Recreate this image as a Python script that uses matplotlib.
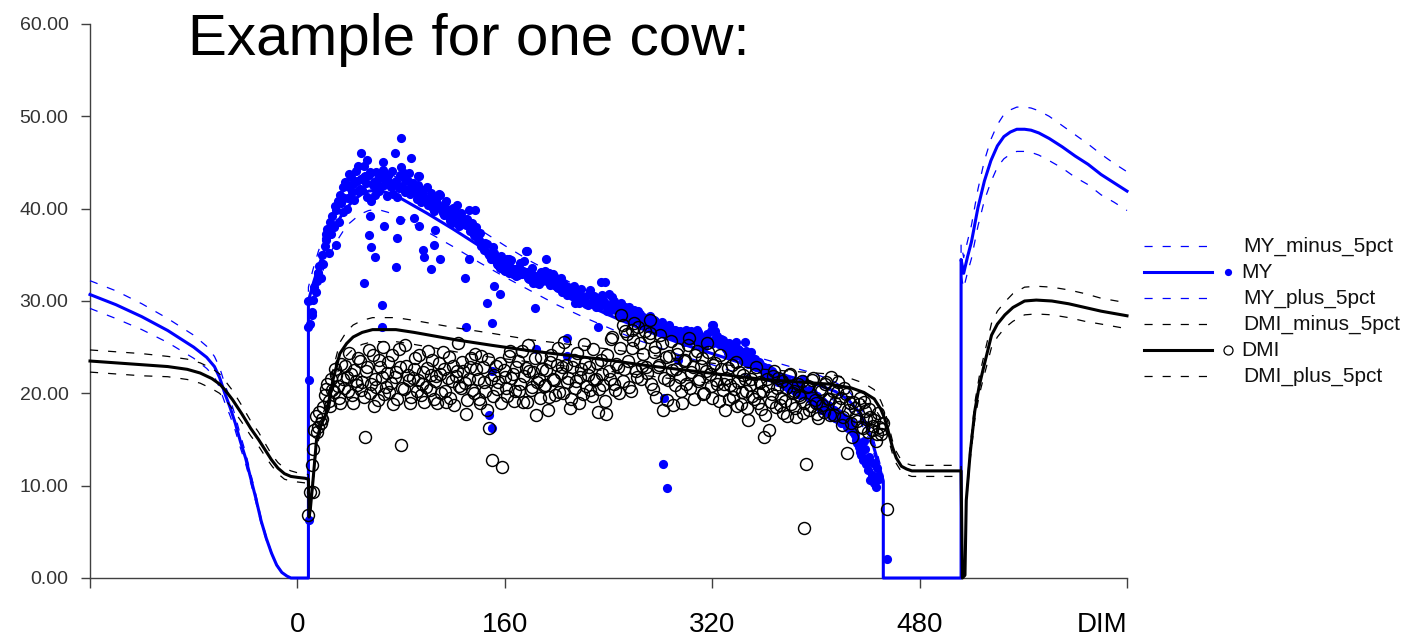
import numpy as np
import matplotlib
matplotlib.use('Agg')
import matplotlib.pyplot as plt
from matplotlib.lines import Line2D

# ---------------- data ----------------
x_ticks = [-160, 0, 160, 320, 480, 640]
x_tick_labels = ['', '0', '160', '320', '480', 'DIM']
y_ticks = [0, 10, 20, 30, 40, 50, 60]

# model curve knots for milk yield (MY)
my_line_x = [-160, -140, -120, -100, -80, -70, -64, -60, -56, -52, -48, -44, -40, -36, -32, -28,
             -24, -20, -16, -12, -8, -5, 8.5, 8.5, 12, 16, 20, 25, 30, 35, 40, 45, 50, 55, 60, 65,
             70, 80, 90, 100, 120, 140, 160, 180, 200, 220, 240, 260, 280, 300, 320, 340, 360, 380,
             400, 415, 425, 432, 438, 443, 447, 450, 452, 452, 512, 512, 514, 517, 520, 525, 530,
             535, 540, 545, 550, 555, 561, 566, 572, 580, 590, 600, 610, 620, 630, 640]
my_line = [30.7, 29.6, 28.3, 26.8, 25.0, 23.9, 22.9, 21.7, 20.0, 18.5, 16.8, 14.8, 13.0, 10.8, 8.6, 6.2,
           4.3, 2.7, 1.4, 0.6, 0.2, 0.0, 0.0, 30.0, 31.8, 33.6, 35.2, 36.9, 38.3, 39.5, 40.4, 41.1, 41.6, 41.9, 42.0, 41.9,
           41.7, 41.1, 40.3, 39.5, 37.8, 36.0, 34.3, 32.7, 31.2, 29.8, 28.5, 27.3, 26.2, 25.2, 24.3, 23.4, 22.6, 21.8,
           21.0, 20.2, 19.3, 18.2, 16.8, 15.0, 13.0, 11.5, 10.5, 0.0, 0.0, 34.5, 33.0, 34.8, 36.4, 40.1, 43.0,
           45.2, 46.8, 47.8, 48.3, 48.6, 48.6, 48.5, 48.2, 47.6, 46.7, 45.7, 44.8, 43.7, 42.8, 41.9]
my_plus_5pct = [32.2, 31.1, 29.7, 28.1, 26.3, 25.1, 24.0, 22.8, 21.0, 19.4, 17.6, 15.5, 13.6, 11.3, 9.0, 6.5,
                4.5, 2.8, 1.5, 0.6, 0.2, 0.0, 0.0, 31.5, 33.4, 35.3, 37.0, 38.7, 40.2, 41.5, 42.4, 43.2, 43.7, 44.0, 44.1, 44.0,
                43.8, 43.2, 42.3, 41.5, 39.7, 37.8, 36.0, 34.3, 32.8, 31.3, 29.9, 28.7, 27.5, 26.5, 25.5, 24.6, 23.7, 22.9,
                22.1, 21.2, 20.3, 19.1, 17.6, 15.8, 13.7, 12.1, 11.0, 0.0, 0.0, 36.2, 34.7, 36.5, 38.2, 42.1, 45.2,
                47.5, 49.1, 50.2, 50.7, 51.0, 51.0, 50.9, 50.6, 50.0, 49.0, 48.0, 47.0, 45.9, 44.9, 44.0]
my_minus_5pct = [29.2, 28.1, 26.9, 25.5, 23.8, 22.7, 21.8, 20.6, 19.0, 17.6, 16.0, 14.1, 12.4, 10.3, 8.2, 5.9,
                 4.1, 2.6, 1.3, 0.6, 0.2, 0.0, 0.0, 28.5, 30.2, 31.9, 33.4, 35.1, 36.4, 37.5, 38.4, 39.0, 39.5, 39.8, 39.9, 39.8,
                 39.6, 39.0, 38.3, 37.5, 35.9, 34.2, 32.6, 31.1, 29.6, 28.3, 27.1, 25.9, 24.9, 23.9, 23.1, 22.2, 21.5, 20.7,
                 20.0, 19.2, 18.3, 17.3, 16.0, 14.3, 12.4, 10.9, 10.0, 0.0, 0.0, 32.8, 31.4, 33.1, 34.6, 38.1, 40.9,
                 42.9, 44.5, 45.4, 45.9, 46.2, 46.2, 46.1, 45.8, 45.2, 44.4, 43.4, 42.6, 41.5, 40.7, 39.8]

# model curve knots for dry matter intake (DMI)
dmi_line_x = [-160, -140, -120, -100, -85, -75, -66, -60, -56, -50, -43, -36, -30, -25, -20, -15, -10, -5,
              0, 6, 8.5, 9, 10, 12, 14.7, 18, 22.4, 27.5, 32.7, 38, 43, 50, 58, 76, 90, 102, 122, 150,
              180, 210, 240, 270, 300, 330, 360, 390, 410, 427, 437, 445, 450, 453, 456, 459, 462, 466,
              470, 474, 512, 513, 515, 516, 519, 522.6, 526, 529, 535.5, 540, 545.8, 552, 561, 570,
              582, 595, 607.5, 620, 640]
dmi_line = [23.5, 23.3, 23.1, 22.9, 22.6, 22.2, 21.6, 21.0, 20.4, 19.3, 17.8, 16.2, 15.0, 13.9, 12.8, 11.9, 11.3, 11.0,
            10.9, 10.8, 10.7, 6.6, 7.5, 10.5, 14.9, 16.5, 17.8, 21.5, 24.3, 25.4, 26.1, 26.6, 26.9, 26.9, 26.6, 26.3, 25.8, 25.2,
            24.6, 24.1, 23.6, 23.0, 22.5, 22.0, 21.5, 21.2, 21.0, 20.6, 20.1, 19.4, 18.3, 17.3, 15.8, 14.2, 13.0, 12.1,
            11.8, 11.6, 11.6, 0.0, 0.3, 8.4, 13.5, 18.1, 20.8, 22.6, 26.3, 27.5, 28.5, 29.3, 30.0, 30.1,
            30.0, 29.7, 29.3, 28.9, 28.4]
dmi_plus_5pct = [24.7, 24.5, 24.3, 24.0, 23.7, 23.3, 22.7, 22.1, 21.4, 20.3, 18.7, 17.0, 15.8, 14.6, 13.4, 12.5, 11.9, 11.6,
                 11.4, 11.3, 11.2, 6.9, 7.9, 11.0, 15.6, 17.3, 18.7, 22.6, 25.5, 26.7, 27.4, 27.9, 28.2, 28.2, 27.9, 27.6, 27.1, 26.5,
                 25.8, 25.3, 24.8, 24.2, 23.6, 23.1, 22.6, 22.3, 22.1, 21.6, 21.1, 20.4, 19.2, 18.2, 16.6, 14.9, 13.7, 12.7,
                 12.4, 12.2, 12.2, 0.0, 0.3, 8.8, 14.2, 19.0, 21.8, 23.7, 27.6, 28.9, 29.9, 30.8, 31.5, 31.6,
                 31.5, 31.2, 30.8, 30.3, 29.8]
dmi_minus_5pct = [22.3, 22.1, 21.9, 21.8, 21.5, 21.1, 20.5, 20.0, 19.4, 18.3, 16.9, 15.4, 14.3, 13.2, 12.2, 11.3, 10.7, 10.5,
                  10.4, 10.3, 10.2, 6.3, 7.1, 10.0, 14.2, 15.7, 16.9, 20.4, 23.1, 24.1, 24.8, 25.3, 25.6, 25.6, 25.3, 25.0, 24.5, 23.9,
                  23.4, 22.9, 22.4, 21.9, 21.4, 20.9, 20.4, 20.1, 20.0, 19.6, 19.1, 18.4, 17.4, 16.4, 15.0, 13.5, 12.4, 11.5,
                  11.2, 11.0, 11.0, 0.0, 0.3, 8.0, 12.8, 17.2, 19.8, 21.5, 25.0, 26.1, 27.1, 27.8, 28.5, 28.6,
                  28.5, 28.2, 27.8, 27.5, 27.0]

# observed milk yield, even days from DIM 10
my_obs_days = np.arange(10, 450, 2)
my_obs = [27.5, 30.1, 31.0, 33.0, 32.5, 34.0, 36.6, 35.2, 37.3, 38.0,
          39.9, 38.6, 40.6, 41.2, 40.0, 42.4, 41.8, 40.9, 43.0, 42.1,
          42.0, 43.5, 41.3, 44.0, 42.6, 41.5, 43.2, 42.4, 44.2, 43.0,
          43.7, 42.4, 41.6, 43.0, 42.2, 44.5, 43.3, 42.0, 43.9, 42.4,
          42.1, 41.0, 43.5, 41.7, 40.9, 42.4, 41.0, 40.2, 41.3, 40.5,
          41.5, 39.8, 40.6, 39.5, 38.8, 40.1, 39.6, 38.5, 39.5, 38.8,
          38.2, 39.9, 37.8, 37.2, 38.0, 36.6, 36.0, 35.5, 36.2, 35.0,
          34.6, 35.2, 34.0, 33.6, 34.5, 33.2, 34.5, 33.7, 32.9, 33.5,
          32.8, 34.1, 33.3, 35.4, 32.5, 33.0, 32.0, 32.6, 31.8, 33.1,
          32.4, 34.5, 33.0, 31.9, 32.7, 31.5, 32.3, 31.0, 31.8, 30.6,
          31.3, 30.5, 29.8, 31.0, 30.7, 29.9, 30.4, 29.6, 31.2, 30.0,
          29.4, 30.3, 32.1, 30.1, 29.5, 30.8, 29.0, 30.0, 29.3, 28.6,
          29.8, 28.9, 28.3, 29.4, 28.0, 29.0, 27.9, 28.6, 27.4, 28.2,
          27.6, 28.4, 27.1, 27.8, 27.0, 27.5, 26.6, 27.3, 26.4, 27.0,
          26.2, 26.8, 25.9, 26.5, 25.6, 26.9, 26.2, 26.7, 25.8, 26.9,
          25.5, 26.1, 25.0, 26.4, 25.6, 27.4, 26.8, 26.2, 25.3, 25.8,
          25.0, 24.4, 25.2, 24.0, 25.6, 24.8, 24.3, 23.5, 24.6, 23.2,
          24.5, 23.0, 22.9, 23.4, 22.6, 22.9, 22.2, 21.8, 22.4, 21.5,
          21.9, 21.2, 21.5, 20.8, 21.3, 20.6, 21.0, 20.2, 20.8, 19.8,
          21.5, 20.2, 19.6, 19.3, 20.0, 18.8, 19.4, 18.2, 18.9, 18.0,
          18.6, 17.5, 18.2, 17.2, 17.8, 16.9, 17.3, 16.4, 16.8, 16.0,
          15.5, 14.6, 13.7, 12.8, 14.0, 11.7, 10.6, 12.5, 9.9, 11.0]
# observed milk yield, odd days from DIM 11
my_obs_days_b = np.arange(11, 450, 2)
my_obs_b = [28.8, 31.5, 32.2, 33.8, 35.0, 36.0, 37.8, 38.6, 39.2, 40.3,
            40.8, 41.5, 39.6, 42.9, 41.2, 43.4, 42.7, 44.1, 41.9, 43.2,
            44.6, 42.8, 43.7, 40.8, 42.9, 44.0, 41.9, 43.4, 42.6, 41.4,
            42.9, 44.1, 42.7, 41.3, 43.6, 42.5, 41.8, 43.0, 41.6, 42.8,
            41.8, 42.6, 40.7, 42.0, 41.1, 40.4, 41.7, 39.8, 40.9, 41.6,
            40.2, 39.3, 40.8, 39.9, 38.4, 39.2, 40.4, 38.1, 39.0, 38.3,
            38.9, 37.6, 38.4, 37.0, 36.8, 37.4, 35.8, 36.3, 35.2, 34.6,
            35.8, 34.4, 33.9, 34.9, 33.4, 34.1, 33.0, 34.4, 33.2, 32.7,
            33.6, 32.9, 34.3, 33.1, 32.4, 33.6, 32.7, 31.9, 32.9, 32.2,
            33.3, 32.6, 31.7, 32.9, 32.1, 31.4, 32.5, 31.6, 30.9, 31.5,
            30.9, 31.6, 30.4, 30.0, 31.3, 30.2, 29.7, 30.8, 29.9, 30.5,
            30.0, 29.3, 30.7, 29.8, 28.9, 29.6, 30.4, 29.1, 28.8, 29.7,
            28.5, 29.3, 28.7, 27.9, 28.8, 28.1, 28.9, 27.7, 28.3, 27.5,
            28.0, 27.2, 27.9, 27.4, 26.9, 27.7, 27.1, 26.7, 27.4, 26.3,
            26.9, 26.2, 26.7, 25.9, 26.5, 26.1, 25.7, 26.4, 25.9, 26.6,
            26.0, 25.4, 26.2, 25.8, 26.7, 25.5, 26.1, 25.3, 25.9, 25.2,
            24.8, 25.4, 24.6, 25.0, 24.2, 24.7, 23.9, 24.5, 23.8, 23.9,
            23.4, 23.7, 22.8, 23.2, 22.5, 22.0, 22.7, 21.9, 22.2, 21.6,
            21.2, 21.8, 21.0, 21.4, 20.5, 21.1, 20.4, 20.9, 20.1, 20.6,
            20.2, 19.8, 20.4, 19.5, 19.1, 19.7, 18.6, 19.2, 18.4, 18.7,
            18.1, 17.8, 17.3, 17.9, 16.8, 17.4, 16.6, 16.2, 16.9, 15.8,
            15.0, 14.2, 13.3, 14.8, 12.4, 13.1, 11.2, 10.3, 11.9, 10.7]
# further observed milk yield (day, kg)
my_extra_days = [8.5, 8.5, 9, 9, 11, 16, 19, 22, 30, 35, 40, 47, 49, 51, 54, 55, 56, 57, 60, 65, 65, 66, 67,
                 70, 75, 76, 77, 79, 80, 82, 88, 90, 93, 94, 97, 98, 103, 105, 106, 110, 112, 118, 129, 130,
                 132, 137, 146, 150, 150, 148, 150, 152, 156, 163, 177, 183, 184, 208, 208, 214, 217, 232,
                 237, 282, 285, 283, 294, 321, 345, 455]
my_extra = [30.0, 27.2, 21.4, 6.3, 28.5, 33.0, 34.0, 37.3, 36.1, 42.4, 43.8, 44.6, 46.0, 31.9, 45.3, 37.2, 39.2, 35.9,
            34.8, 29.6, 27.2, 45.1, 38.1, 43.7, 46.0, 33.7, 36.8, 38.8, 47.6, 43.9, 45.5, 39.0, 43.5, 38.1, 35.5, 34.8,
            33.5, 36.1, 37.7, 34.6, 39.5, 38.8, 32.5, 27.2, 34.5, 39.9, 29.8, 27.6, 22.4, 17.6, 16.2, 31.6, 30.8, 34.5,
            35.4, 29.2, 24.8, 26.0, 24.0, 31.3, 29.8, 27.2, 32.1, 12.4, 9.7, 19.5, 23.6, 27.4, 25.6, 2.1]

# observed dry matter intake, even days from DIM 10
dmi_obs_days = np.arange(10, 454, 2)
dmi_obs = [9.3, 14.0, 17.5, 16.4, 16.8, 18.5, 20.5, 19.2, 21.6, 20.1,
           22.0, 19.5, 23.2, 20.6, 21.8, 24.4, 19.8, 22.5, 20.9, 23.5,
           21.2, 15.3, 22.8, 20.0, 24.1, 21.5, 19.3, 22.9, 25.0, 20.7,
           23.4, 21.1, 18.8, 22.3, 24.8, 14.4, 20.5, 23.0, 21.4, 19.6,
           22.6, 20.2, 24.2, 21.0, 19.1, 22.7, 20.4, 23.6, 21.3, 18.9,
           22.1, 24.5, 20.3, 21.7, 19.5, 23.0, 21.9, 25.5, 20.6, 22.4,
           17.8, 21.5, 23.8, 20.0, 22.6, 19.4, 24.0, 21.2, 18.2, 16.2,
           12.8, 22.0, 20.5, 23.3, 12.0, 21.8, 19.7, 24.6, 22.1, 20.3,
           23.5, 21.0, 19.1, 22.7, 25.2, 20.4, 22.3, 17.6, 21.5, 23.9,
           20.8, 22.5, 19.6, 24.2, 21.4, 23.1, 20.1, 22.8, 25.6, 21.2,
           18.4, 22.9, 20.6, 24.4, 21.8, 19.9, 23.3, 22.0, 20.4, 24.8,
           21.5, 18.0, 23.6, 20.9, 17.8, 22.4, 25.9, 21.0, 23.2, 20.0,
           28.5, 22.6, 26.4, 20.7, 24.9, 27.6, 21.8, 25.4, 23.0, 26.8,
           22.2, 27.9, 20.5, 25.0, 22.8, 26.3, 18.2, 23.9, 21.4, 25.7,
           18.7, 22.6, 24.8, 20.2, 23.5, 21.0, 26.0, 22.3, 19.4, 24.6,
           21.6, 23.8, 20.0, 25.4, 22.1, 19.5, 23.3, 21.0, 24.2, 20.4,
           18.2, 22.7, 20.9, 19.6, 23.4, 21.2, 18.8, 22.0, 20.3, 17.1,
           21.5, 19.4, 22.8, 20.0, 18.3, 15.3, 21.6, 16.0, 19.9, 22.4,
           20.6, 18.7, 21.3, 19.2, 17.5, 22.1, 20.0, 18.4, 21.0, 19.6,
           17.9, 12.4, 20.8, 18.6, 21.7, 19.0, 17.3, 20.3, 18.0, 21.2,
           19.4, 21.8, 17.7, 20.1, 18.5, 16.6, 20.6, 13.5, 19.0, 15.3,
           18.4, 17.0, 19.5, 16.2, 18.1, 15.8, 17.4, 16.5, 14.8, 17.9,
           15.6, 16.8]
# observed dry matter intake, odd days from DIM 11
dmi_obs_days_b = np.arange(11, 452, 2)
dmi_obs_b = [12.2, 16.0, 15.8, 18.0, 17.2, 19.8, 21.0, 18.6, 20.4, 22.6,
             20.8, 18.9, 21.5, 23.0, 20.2, 22.1, 19.0, 21.3, 23.8, 20.4,
             19.6, 22.4, 24.7, 21.0, 18.6, 20.7, 23.6, 21.8, 19.9, 22.2,
             20.1, 24.2, 21.8, 19.4, 22.9, 20.6, 25.2, 22.0, 19.0, 21.7,
             23.8, 21.4, 19.8, 22.3, 20.7, 24.6, 22.0, 19.4, 21.9, 23.3,
             20.0, 22.6, 19.1, 23.9, 21.3, 18.7, 22.4, 20.8, 23.4, 21.1,
             19.3, 22.9, 20.4, 24.3, 21.6, 19.0, 22.8, 20.2, 23.7, 21.5,
             19.7, 23.0, 21.2, 18.9, 22.5, 20.6, 24.0, 21.7, 19.2, 22.9,
             20.3, 24.6, 21.9, 19.1, 22.4, 20.7, 23.8, 21.2, 19.5, 22.6,
             20.9, 18.2, 23.4, 21.5, 19.8, 24.9, 22.2, 20.0, 23.1, 21.7,
             19.4, 23.6, 21.3, 19.0, 22.6, 25.3, 20.8, 22.9, 19.7, 21.4,
             23.3, 20.5, 22.1, 19.2, 24.2, 21.6, 26.1, 20.4, 22.8, 24.9,
             21.3, 26.7, 23.5, 20.3, 25.8, 22.4, 27.2, 21.6, 24.3, 22.9,
             26.1, 21.0, 24.5, 19.6, 23.1, 25.5, 21.7, 19.3, 24.0, 22.5,
             20.9, 24.3, 21.8, 19.0, 23.6, 25.2, 20.6, 22.9, 24.1, 21.3,
             23.0, 19.9, 22.4, 24.5, 20.8, 23.1, 21.4, 19.2, 22.6, 21.0,
             21.7, 19.4, 23.1, 20.5, 18.6, 22.3, 20.1, 21.5, 18.4, 20.9,
             19.7, 22.1, 18.9, 21.2, 20.3, 17.6, 20.8, 19.1, 21.9, 18.5,
             21.7, 19.5, 17.9, 20.6, 22.0, 18.8, 20.2, 17.4, 19.8, 21.3,
             19.0, 20.7, 18.2, 21.4, 19.3, 17.8, 20.5, 18.7, 21.0, 19.4,
             17.6, 20.3, 18.9, 21.2, 19.5, 17.4, 19.9, 18.2, 16.8, 19.1,
             17.5, 18.8, 16.4, 19.1, 17.2, 18.3, 16.0, 17.1, 15.6, 16.4,
             16.1]
dmi_extra_days = [8.5, 12, 391, 455, 251, 258, 272]
dmi_extra = [6.8, 9.35, 5.4, 7.5, 27.4, 26.9, 26.5]

legend_labels = ['MY_minus_5pct', 'MY', 'MY_plus_5pct', 'DMI_minus_5pct', 'DMI', 'DMI_plus_5pct']

# ---------------- figure ----------------
W, H = 1405, 637
fig = plt.figure(figsize=(W / 100, H / 100), dpi=100)
ax = fig.add_axes([90 / W, 1 - 578 / H, (1127 - 90) / W, (578 - 24) / H])

BLUE = '#0000ff'
DASH = (6.5, 8)
MY_MS = 6.6
DMI_MS = 8.6

ax.plot(my_line_x, my_minus_5pct, color=BLUE, lw=0.9, dashes=DASH, zorder=2, clip_on=False)
ax.plot(my_line_x, my_line, color=BLUE, lw=2.2, zorder=3, clip_on=False)
ax.plot(my_line_x, my_plus_5pct, color=BLUE, lw=0.9, dashes=DASH, zorder=2, clip_on=False)
for dd, vv in [(my_obs_days, my_obs), (my_obs_days_b, my_obs_b), (my_extra_days, my_extra)]:
    ax.plot(dd, vv, 'o', color=BLUE, ms=MY_MS, mew=0, zorder=4, clip_on=False)

ax.plot(dmi_line_x, dmi_minus_5pct, color='black', lw=0.9, dashes=DASH, zorder=5, clip_on=False)
ax.plot(dmi_line_x, dmi_line, color='black', lw=2.2, zorder=6, clip_on=False)
ax.plot(dmi_line_x, dmi_plus_5pct, color='black', lw=0.9, dashes=DASH, zorder=5, clip_on=False)
for dd, vv in [(dmi_obs_days, dmi_obs), (dmi_obs_days_b, dmi_obs_b), (dmi_extra_days, dmi_extra)]:
    ax.plot(dd, vv, 'o', mfc='none', mec='black', ms=DMI_MS, mew=1.05, zorder=7, clip_on=False)

ax.set_xlim(-160, 640)
ax.set_ylim(0, 60)
for s in ['top', 'right']:
    ax.spines[s].set_visible(False)
for s in ['left', 'bottom']:
    ax.spines[s].set_color('#404040')
    ax.spines[s].set_linewidth(1.0)
    ax.spines[s].set_zorder(1)

ax.set_yticks(y_ticks)
ax.set_yticklabels([f'{v:.2f}' for v in y_ticks])
ax.set_xticks(x_ticks)
ax.set_xticklabels(x_tick_labels)
ax.tick_params(axis='y', direction='out', length=6.5, width=1.0, color='#404040', pad=9,
               labelsize=14, labelcolor='#333333')
ax.tick_params(axis='x', direction='out', length=7.5, width=1.0, color='#404040', pad=17,
               labelsize=20, labelcolor='black')
for lab in ax.get_yticklabels() + ax.get_xticklabels():
    lab.set_fontfamily('Liberation Sans')
ax.get_xticklabels()[-1].set_ha('right')

fig.text(188 / W, 1 - 55 / H, 'Example for one cow:', fontsize=42, family='Liberation Sans',
         ha='left', va='baseline', color='black')

# legend (drawn by hand to mimic line + marker layout)
rows = [246, 272, 298, 324, 350, 376]
styles = [(BLUE, 'dash', None), (BLUE, 'solid', 'fill'), (BLUE, 'dash', None),
          ('black', 'dash', None), ('black', 'solid', 'open'), ('black', 'dash', None)]
x0, x1, xm, xt = 1144 / W, 1212 / W, 1228 / W, 1243 / W
for r, (c, ls, mk), lab in zip(rows, styles, legend_labels):
    yf = 1 - r / H
    if ls == 'dash':
        fig.add_artist(Line2D([x0, x1], [yf, yf], transform=fig.transFigure, color=c, lw=0.9, dashes=DASH))
    else:
        fig.add_artist(Line2D([x0, x1], [yf, yf], transform=fig.transFigure, color=c, lw=2.2))
    if mk == 'fill':
        fig.add_artist(Line2D([xm], [yf], transform=fig.transFigure, marker='o', color=c, ms=5.2, mew=0))
    elif mk == 'open':
        fig.add_artist(Line2D([xm], [yf], transform=fig.transFigure, marker='o', mfc='none', mec=c, ms=6.5, mew=0.9))
    fig.text(xt if mk is None else xt - 2 / W, yf, lab, fontsize=15, family='Liberation Sans',
             ha='left', va='center', color='#111111')

fig.savefig('out.png', dpi=100)
